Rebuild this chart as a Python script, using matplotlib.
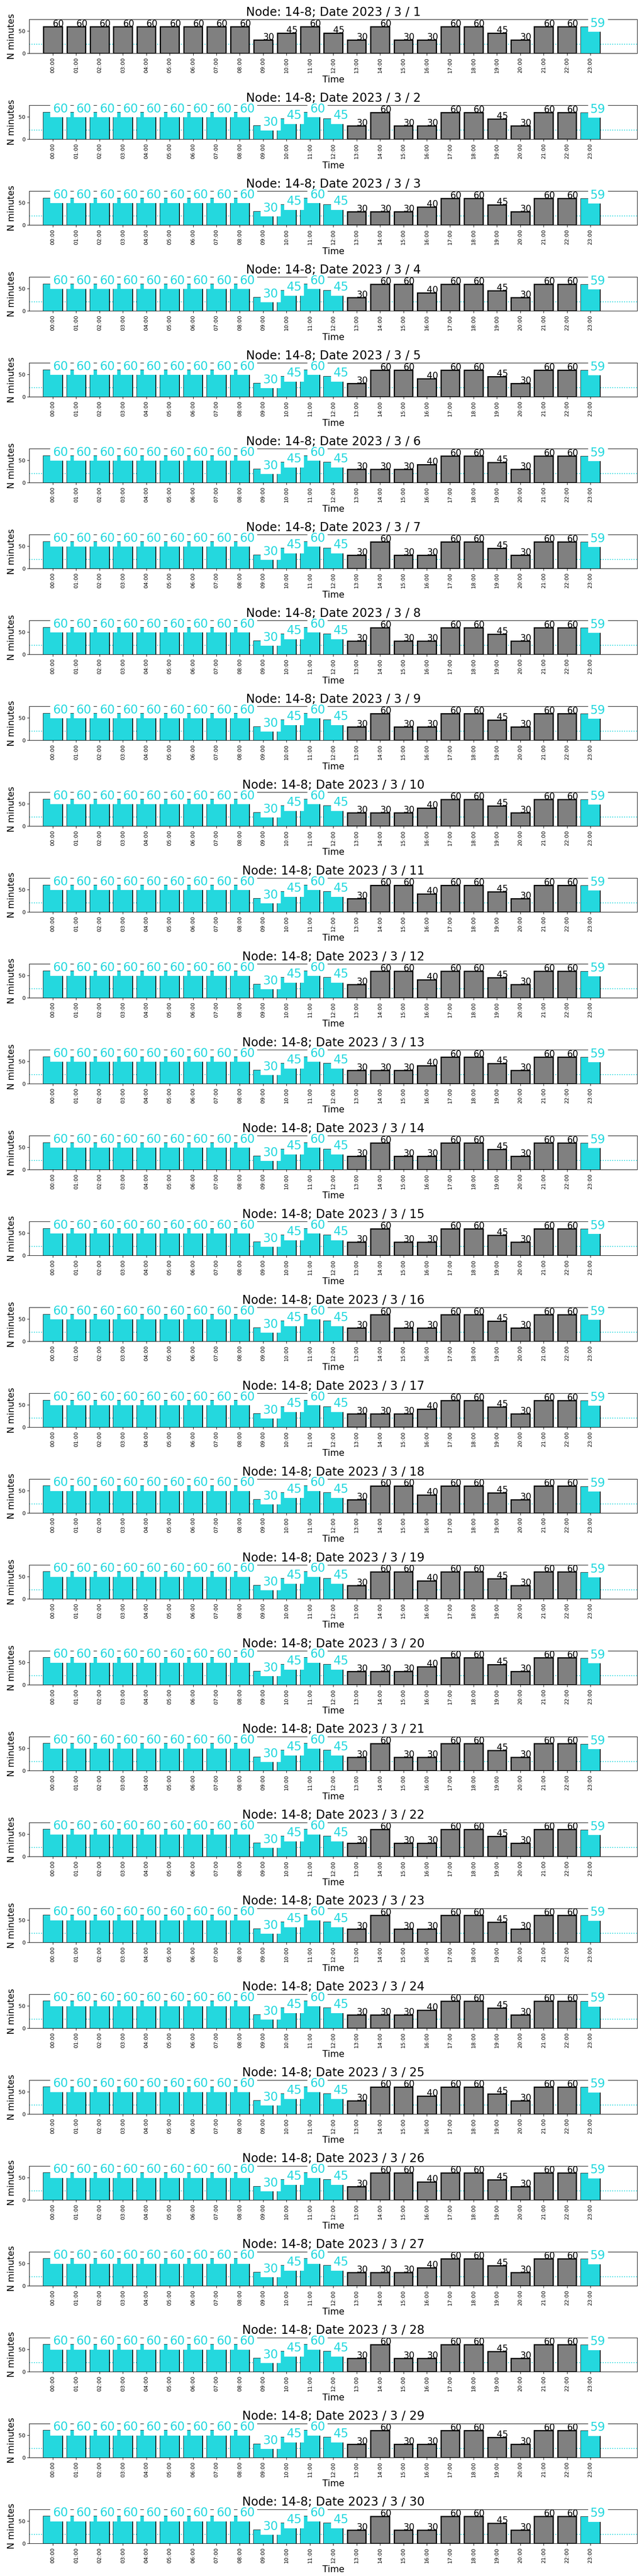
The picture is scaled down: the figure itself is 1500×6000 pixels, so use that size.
import matplotlib
matplotlib.use('Agg')
import matplotlib.pyplot as plt

# Minutes of data per hour, node 14-8, March 2023
NODE = '14-8'
YEAR, MONTH = 2023, 3
hours = [f'{h:02d}:00' for h in range(24)]
threshold = 20

mar01 = [60, 60, 60, 60, 60, 60, 60, 60, 60, 30, 45, 60, 45, 30, 60, 30, 30, 60, 60, 45, 30, 60, 60, 59]
mar02 = [60, 60, 60, 60, 60, 60, 60, 60, 60, 30, 45, 60, 45, 30, 60, 30, 30, 60, 60, 45, 30, 60, 60, 59]
mar03 = [60, 60, 60, 60, 60, 60, 60, 60, 60, 30, 45, 60, 45, 30, 30, 30, 40, 60, 60, 45, 30, 60, 60, 59]
mar04 = [60, 60, 60, 60, 60, 60, 60, 60, 60, 30, 45, 60, 45, 30, 60, 60, 40, 60, 60, 45, 30, 60, 60, 59]
mar05 = [60, 60, 60, 60, 60, 60, 60, 60, 60, 30, 45, 60, 45, 30, 60, 60, 40, 60, 60, 45, 30, 60, 60, 59]
mar06 = [60, 60, 60, 60, 60, 60, 60, 60, 60, 30, 45, 60, 45, 30, 30, 30, 40, 60, 60, 45, 30, 60, 60, 59]
mar07 = [60, 60, 60, 60, 60, 60, 60, 60, 60, 30, 45, 60, 45, 30, 60, 30, 30, 60, 60, 45, 30, 60, 60, 59]
mar08 = [60, 60, 60, 60, 60, 60, 60, 60, 60, 30, 45, 60, 45, 30, 60, 30, 30, 60, 60, 45, 30, 60, 60, 59]
mar09 = [60, 60, 60, 60, 60, 60, 60, 60, 60, 30, 45, 60, 45, 30, 60, 30, 30, 60, 60, 45, 30, 60, 60, 59]
mar10 = [60, 60, 60, 60, 60, 60, 60, 60, 60, 30, 45, 60, 45, 30, 30, 30, 40, 60, 60, 45, 30, 60, 60, 59]
mar11 = [60, 60, 60, 60, 60, 60, 60, 60, 60, 30, 45, 60, 45, 30, 60, 60, 40, 60, 60, 45, 30, 60, 60, 59]
mar12 = [60, 60, 60, 60, 60, 60, 60, 60, 60, 30, 45, 60, 45, 30, 60, 60, 40, 60, 60, 45, 30, 60, 60, 59]
mar13 = [60, 60, 60, 60, 60, 60, 60, 60, 60, 30, 45, 60, 45, 30, 30, 30, 40, 60, 60, 45, 30, 60, 60, 59]
mar14 = [60, 60, 60, 60, 60, 60, 60, 60, 60, 30, 45, 60, 45, 30, 60, 30, 30, 60, 60, 45, 30, 60, 60, 59]
mar15 = [60, 60, 60, 60, 60, 60, 60, 60, 60, 30, 45, 60, 45, 30, 60, 30, 30, 60, 60, 45, 30, 60, 60, 59]
mar16 = [60, 60, 60, 60, 60, 60, 60, 60, 60, 30, 45, 60, 45, 30, 60, 30, 30, 60, 60, 45, 30, 60, 60, 59]
mar17 = [60, 60, 60, 60, 60, 60, 60, 60, 60, 30, 45, 60, 45, 30, 30, 30, 40, 60, 60, 45, 30, 60, 60, 59]
mar18 = [60, 60, 60, 60, 60, 60, 60, 60, 60, 30, 45, 60, 45, 30, 60, 60, 40, 60, 60, 45, 30, 60, 60, 59]
mar19 = [60, 60, 60, 60, 60, 60, 60, 60, 60, 30, 45, 60, 45, 30, 60, 60, 40, 60, 60, 45, 30, 60, 60, 59]
mar20 = [60, 60, 60, 60, 60, 60, 60, 60, 60, 30, 45, 60, 45, 30, 30, 30, 40, 60, 60, 45, 30, 60, 60, 59]
mar21 = [60, 60, 60, 60, 60, 60, 60, 60, 60, 30, 45, 60, 45, 30, 60, 30, 30, 60, 60, 45, 30, 60, 60, 59]
mar22 = [60, 60, 60, 60, 60, 60, 60, 60, 60, 30, 45, 60, 45, 30, 60, 30, 30, 60, 60, 45, 30, 60, 60, 59]
mar23 = [60, 60, 60, 60, 60, 60, 60, 60, 60, 30, 45, 60, 45, 30, 60, 30, 30, 60, 60, 45, 30, 60, 60, 59]
mar24 = [60, 60, 60, 60, 60, 60, 60, 60, 60, 30, 45, 60, 45, 30, 30, 30, 40, 60, 60, 45, 30, 60, 60, 59]
mar25 = [60, 60, 60, 60, 60, 60, 60, 60, 60, 30, 45, 60, 45, 30, 60, 60, 40, 60, 60, 45, 30, 60, 60, 59]
mar26 = [60, 60, 60, 60, 60, 60, 60, 60, 60, 30, 45, 60, 45, 30, 60, 60, 40, 60, 60, 45, 30, 60, 60, 59]
mar27 = [60, 60, 60, 60, 60, 60, 60, 60, 60, 30, 45, 60, 45, 30, 30, 30, 40, 60, 60, 45, 30, 60, 60, 59]
mar28 = [60, 60, 60, 60, 60, 60, 60, 60, 60, 30, 45, 60, 45, 30, 60, 30, 30, 60, 60, 45, 30, 60, 60, 59]
mar29 = [60, 60, 60, 60, 60, 60, 60, 60, 60, 30, 45, 60, 45, 30, 60, 30, 30, 60, 60, 45, 30, 60, 60, 59]
mar30 = [60, 60, 60, 60, 60, 60, 60, 60, 60, 30, 45, 60, 45, 30, 60, 30, 30, 60, 60, 45, 30, 60, 60, 59]

daily = [mar01, mar02, mar03, mar04, mar05, mar06, mar07, mar08, mar09, mar10,
         mar11, mar12, mar13, mar14, mar15, mar16, mar17, mar18, mar19, mar20,
         mar21, mar22, mar23, mar24, mar25, mar26, mar27, mar28, mar29, mar30]
days = list(range(1, 31))

# hours drawn in cyan (first day only the last hour)
first_day_flagged = [23]
flagged_hours = [0, 1, 2, 3, 4, 5, 6, 7, 8, 9, 10, 11, 12, 23]

CYAN = '#24d8de'

fig, axes = plt.subplots(len(days), 1, figsize=(15, 60), dpi=100)
fig.subplots_adjust(left=0.0456, right=0.9893, top=0.9925, bottom=0.0127, hspace=1.53)

for ax, day, vals in zip(axes, days, daily):
    flagged = first_day_flagged if day == 1 else flagged_hours
    x = list(range(len(vals)))
    ax.axhline(threshold, color=CYAN, linestyle=':', linewidth=1.5, zorder=0)
    ax.bar(x, vals, width=0.8, color='grey', edgecolor='black', linewidth=2)
    for i, v in enumerate(vals):
        if i in flagged:
            ax.bar(i, v, width=0.8, color=CYAN, linewidth=0)
            ax.text(i, v, str(v), color=CYAN, fontsize=20,
                    bbox=dict(facecolor='white', edgecolor='none'))
        else:
            ax.text(i, v, str(v), color='black', fontsize=15)

    ax.set_xticks(x)
    ax.set_xticklabels(hours, rotation=90, fontsize=9)
    ax.set_yticks([0, 50])
    ax.tick_params(axis='y', labelsize=9)
    ax.set_xlim(-1, 25)
    ax.set_ylim(0, 76)
    ax.set_title(f'Node: {NODE}; Date {YEAR} / {MONTH} / {day}', fontsize=20)
    ax.set_xlabel('Time', fontsize=15)
    ax.set_ylabel('N minutes', fontsize=15)

fig.savefig('out.png')
